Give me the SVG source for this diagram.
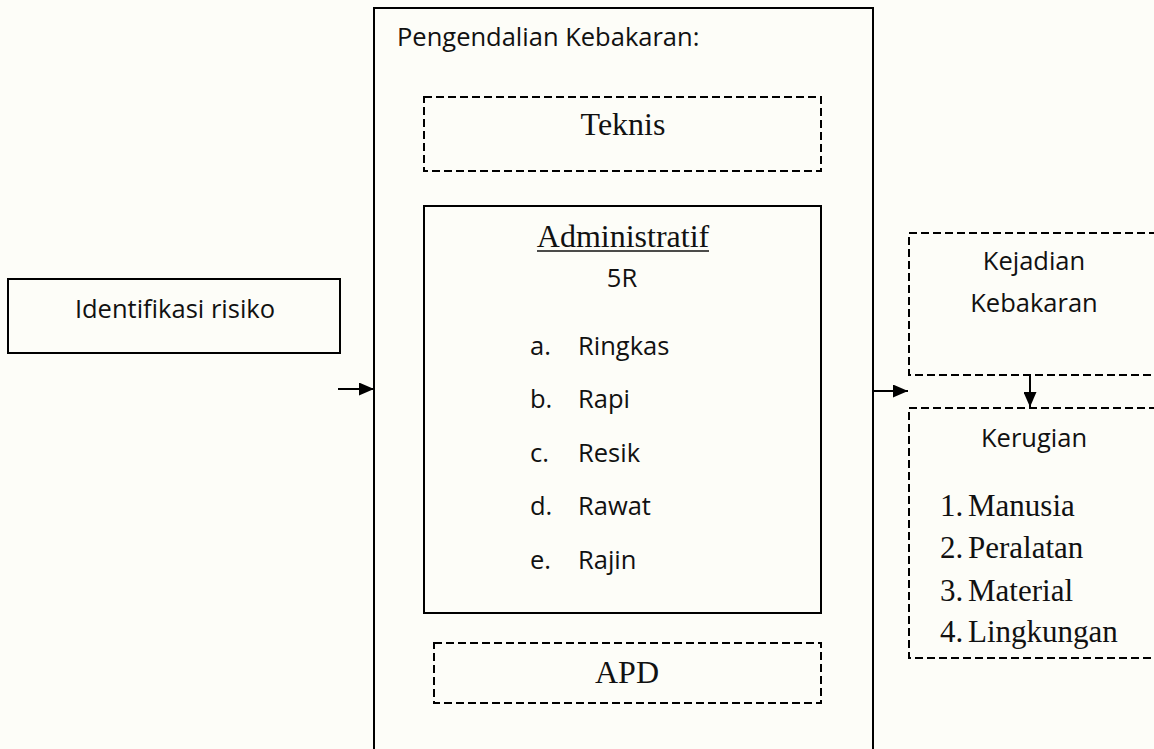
<svg xmlns="http://www.w3.org/2000/svg" width="1154" height="749" viewBox="0 0 1154 749">
<defs>
<marker id="ah" markerWidth="15" markerHeight="13" refX="15" refY="6.5" orient="auto" markerUnits="userSpaceOnUse">
<path d="M0,0 L15,6.5 L0,13 Z" fill="#000"/>
</marker>
<style>
.solid{fill:none;stroke:#000;stroke-width:2}
.dash{fill:none;stroke:#000;stroke-width:2;stroke-dasharray:8 4}
.sans{font-family:"Open Sans","Liberation Sans",sans-serif;font-size:25.5px;fill:#111}
.serif{font-family:"Liberation Serif","Times New Roman",serif;font-size:32px;fill:#111}
.serif2{font-family:"Liberation Serif","Times New Roman",serif;font-size:31px;fill:#111}
.mid{text-anchor:middle}
.conn{stroke:#000;stroke-width:2;fill:none}
</style>
</defs>
<rect width="1154" height="749" fill="#fdfdf8"/>
<g id="pengendalian">
<rect class="solid" x="374" y="8" width="499" height="760"/>
<text class="sans" x="397" y="46">Pengendalian Kebakaran:</text>
</g>
<g id="teknis">
<rect class="dash" x="424" y="97" width="397" height="74"/>
<text class="serif mid" x="623" y="135">Teknis</text>
</g>
<g id="administratif">
<rect class="solid" x="424" y="206" width="397" height="407"/>
<text class="serif mid" x="623" y="247">Administratif</text>
<line x1="537" y1="251" x2="709" y2="251" stroke="#111" stroke-width="1.5"/>
<text class="sans mid" x="622" y="287">5R</text>
<text class="sans" x="530" y="355">a.</text><text class="sans" x="578" y="355">Ringkas</text>
<text class="sans" x="530" y="408">b.</text><text class="sans" x="578" y="408">Rapi</text>
<text class="sans" x="530" y="462">c.</text><text class="sans" x="578" y="462">Resik</text>
<text class="sans" x="530" y="515">d.</text><text class="sans" x="578" y="515">Rawat</text>
<text class="sans" x="530" y="569">e.</text><text class="sans" x="578" y="569">Rajin</text>
</g>
<g id="apd">
<rect class="dash" x="434" y="643" width="387" height="60"/>
<text class="serif mid" x="627" y="683">APD</text>
</g>
<g id="identifikasi">
<rect class="solid" x="8" y="279" width="332" height="74"/>
<text class="sans mid" x="175" y="318">Identifikasi risiko</text>
</g>
<g id="kejadian">
<rect class="dash" x="909" y="233" width="260" height="142"/>
<text class="sans mid" x="1034" y="270">Kejadian</text>
<text class="sans mid" x="1034" y="312">Kebakaran</text>
</g>
<g id="kerugian">
<rect class="dash" x="909" y="408" width="260" height="250"/>
<text class="sans mid" x="1034" y="447">Kerugian</text>
<text class="serif2" x="940" y="516">1.</text><text class="serif2" x="968" y="516">Manusia</text>
<text class="serif2" x="940" y="558">2.</text><text class="serif2" x="968" y="558">Peralatan</text>
<text class="serif2" x="940" y="601">3.</text><text class="serif2" x="968" y="601">Material</text>
<text class="serif2" x="940" y="642">4.</text><text class="serif2" x="968" y="642">Lingkungan</text>
</g>
<g id="connectors">
<line class="conn" x1="338" y1="389" x2="374" y2="389" marker-end="url(#ah)"/>
<line class="conn" x1="873" y1="391" x2="908" y2="391" marker-end="url(#ah)"/>
<line class="conn" x1="1030" y1="375" x2="1030" y2="407" marker-end="url(#ah)"/>
</g>
</svg>
